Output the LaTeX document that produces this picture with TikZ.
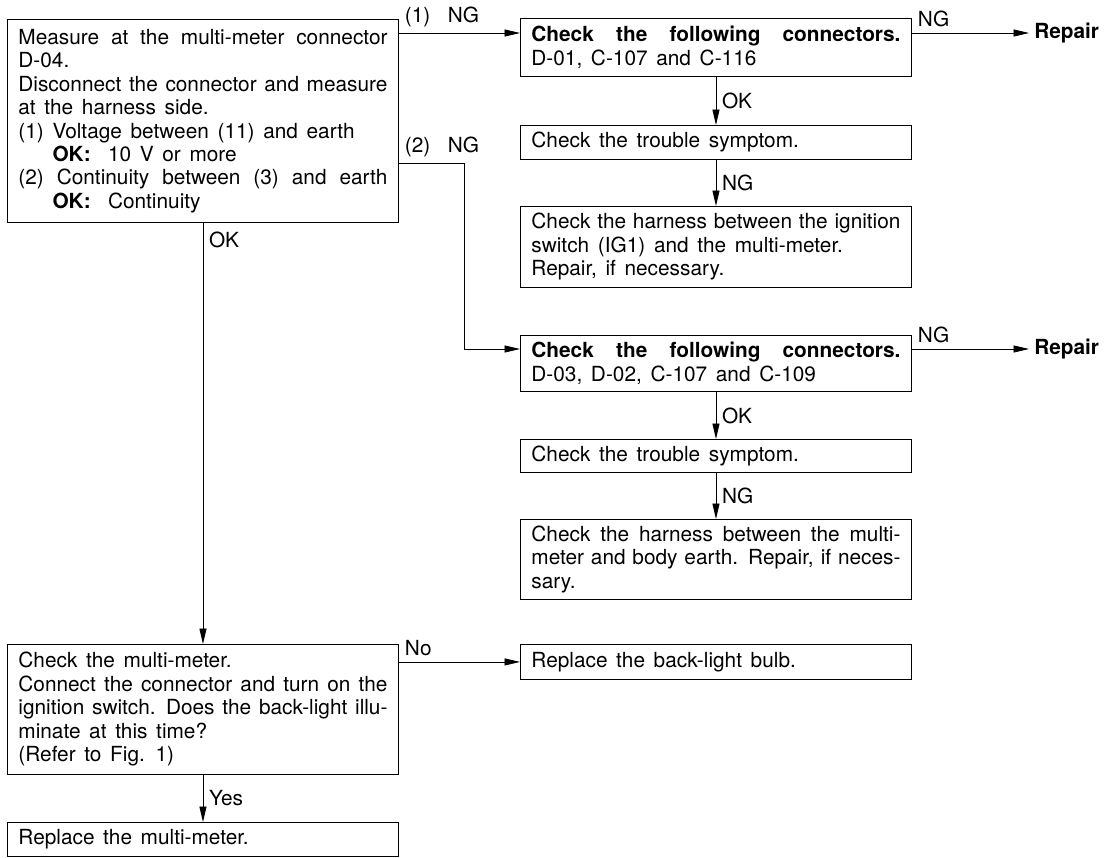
\documentclass[tikz,border=0pt]{standalone}
\usepackage{fontspec}
\setmainfont{TeX Gyre Heros}[WordSpace={1.5,1.5,4}]
\usetikzlibrary{arrows.meta,positioning}

\begin{document}
\begin{tikzpicture}[x=0.025cm, y=-0.025cm, >={Triangle[length=11pt,width=5pt]},
  every node/.style={font=\fontsize{14.8}{16.7}\selectfont},
  box/.style={draw, line width=0.6pt, anchor=north west, text width=9.225cm,
    inner xsep=0.275cm, inner ysep=2pt, align=justify},
  conn/.style={->, line width=0.6pt},
  lbl/.style={inner sep=4pt},
  goal/.style={anchor=west, inner sep=0.125cm, font=\fontsize{14.8}{16.7}\selectfont\bfseries}]

  % page frame
  \useasboundingbox (0,0) rectangle (1114,857);

  % first measurement
  \node[box, minimum height=5.075cm] (meas) at (7,19)
    {Measure at the multi-meter connector\linebreak D-04.\\
     Disconnect the connector and measure\linebreak at the harness side.\\
     (1) Voltage between (11) and earth\\
     \hphantom{(1) }\textbf{OK:}\ \ 10 V or more\\
     (2) Continuity between (3) and earth\linebreak
     \hphantom{(2) }\textbf{OK:}\ \ Continuity};

  % branch (1) NG
  \node[box, minimum height=1.45cm] (conn1) at (520,18)
    {\textbf{Check the following connectors.}\linebreak D-01, C-107 and C-116};
  \node[box, minimum height=0.85cm] (trbl1) at (520,125) {Check the trouble symptom.};
  \node[box, minimum height=2.025cm] (hrns1) at (520,206)
    {Check the harness between the ignition\linebreak switch (IG1) and the multi-meter.\\
     Repair, if necessary.};
  \node[goal] (rep1) at (1029,33) {Repair};

  % branch (2) NG
  \node[box, minimum height=1.4cm] (conn2) at (520,335)
    {\textbf{Check the following connectors.}\linebreak D-03, D-02, C-107 and C-109};
  \node[box, minimum height=0.825cm] (trbl2) at (520,439) {Check the trouble symptom.};
  \node[box, minimum height=2.0cm] (hrns2) at (520,519)
    {Check the harness between the multi-\linebreak meter and body earth. Repair, if neces-\linebreak sary.};
  \node[goal] (rep2) at (1029,349) {Repair};

  % meter check
  \node[box, minimum height=3.25cm] (chkm) at (7,644)
    {Check the multi-meter.\\
     Connect the connector and turn on the\linebreak ignition switch. Does the back-light illu-\linebreak
     minate at this time?\\ (Refer to Fig. 1)};
  \node[box, minimum height=0.875cm] (bulb) at (520,644) {Replace the back-light bulb.};
  \node[box, minimum height=0.85cm] (repm) at (7,822) {Replace the multi-meter.};

  % helper points
  \path (meas.north east) ++(0,14) coordinate (ng1);
  \path (meas.north east) ++(0,144) coordinate (ng2);
  \coordinate (turn) at (464,163);
  \path (conn2.north west) ++(0,14) coordinate (ng2e);

  % connectors
  \draw[conn] (ng1) -- node[lbl, pos=0, above right] {(1)\ \ NG} (ng1 -| conn1.west);
  \draw[conn] (ng1 -| conn1.east) -- node[lbl, pos=0, above right] {NG} (rep1.west);
  \draw[conn] (conn1.south) -- node[lbl, right] {OK} (trbl1.north);
  \draw[conn] (trbl1.south) -- node[lbl, right] {NG} (hrns1.north);

  \draw[conn] (ng2) -- node[lbl, pos=0, above right] {(2)\ \ NG} (turn) |- (ng2e);
  \draw[conn] (ng2e -| conn2.east) -- node[lbl, pos=0, above right] {NG} (rep2.west);
  \draw[conn] (conn2.south) -- node[lbl, right] {OK} (trbl2.north);
  \draw[conn] (trbl2.south) -- node[lbl, right] {NG} (hrns2.north);

  \draw[conn] (meas.south) -- node[lbl, pos=0.04, right] {OK} (chkm.north);
  \draw[conn] (chkm.east |- bulb.west) -- node[lbl, pos=0, above right] {No} (bulb.west);
  \draw[conn] (chkm.south) -- node[lbl, right] {Yes} (repm.north);

\end{tikzpicture}
\end{document}
